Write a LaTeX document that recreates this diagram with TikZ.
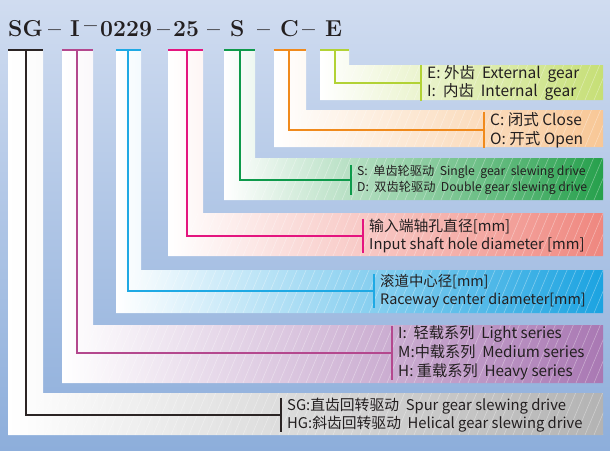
\documentclass[tikz,border=0pt]{standalone}
\usepackage{fontspec}
\newfontfamily\cjk{Noto Sans CJK SC}
\usepackage{tikz}
\usetikzlibrary{calc,positioning}

\definecolor{bgtop}{HTML}{D0DCF0}
\definecolor{bgbot}{HTML}{8DAEDB}
\definecolor{ink}{HTML}{231F20}
% band colours (right end of each band)
\definecolor{gSG}{HTML}{B3B3B3}
\definecolor{gLoad}{HTML}{A978B3}
\definecolor{gRace}{HTML}{1BA3E1}
\definecolor{gShaft}{HTML}{EF877F}
\definecolor{gDrive}{HTML}{26A04C}
\definecolor{gClose}{HTML}{F8C796}
\definecolor{gGear}{HTML}{C6DF76}
% lead line colours
\definecolor{lSG}{HTML}{2B2424}
\definecolor{lLoad}{HTML}{B4488E}
\definecolor{lRace}{HTML}{1FA9E4}
\definecolor{lShaft}{HTML}{E4157F}
\definecolor{lDrive}{HTML}{0E9A4B}
\definecolor{lClose}{HTML}{F08A1C}
\definecolor{lGear}{HTML}{B2D235}

\tikzset{
  code/.style={font=\fontsize{23}{23}\selectfont\bfseries, text=ink, inner sep=0pt, anchor=base west},
  desc/.style={font=\cjk\fontsize{14.8}{18.5}\selectfont, text=ink, align=left, anchor=west, inner xsep=6pt, inner ysep=0pt},
  lead/.style={line width=1.8pt},
  hatch/.style={white, opacity=0.35, line width=0.6pt}
}

\begin{document}
\begin{tikzpicture}[x=1pt,y=-1pt]
  \shade[top color=bgtop, bottom color=bgbot] (0,0) rectangle (610,450);
  \useasboundingbox (0,0) rectangle (610,450);
  % L-shaped panels: strip from the code down, band to the right
  \foreach \xl/\xs/\bt/\bb/\col in {8/43/393/435/gSG, 62/93/325/383/gLoad,
      116/141/270/313/gRace, 168/203/213/256/gShaft, 224/255/158/200/gDrive,
      274/306/110/147/gClose, 320/349/65/100/gGear}{
    \shade[left color=white, right color=\col] (\xl,50) -- (\xs,50) -- (\xs,\bt)
      -- (603,\bt) -- (603,\bb) -- (\xl,\bb) -- cycle;
    \begin{scope}
      \clip (\xl,\bt) rectangle (603,\bb);
      \foreach \h in {0,9,...,620}
        \draw[hatch] (\h,\bb) -- ++(26,-62);
    \end{scope}
  }

  % Model code
  \node[code] (cSG) at (8,36) {SG};
  \node[code] (cLoad) at (70,36) {I};
  \node[code] (cRace) at (100,36) {0229};
  \node[code] (cShaft) at (173,36) {25};
  \node[code] (cDrive) at (230,36) {S};
  \node[code] (cClose) at (280,36) {C};
  \node[code] (cGear) at (325,36) {E};
  \foreach \dx/\dy [count=\i] in {48/36, 84/32, 157/36, 207/36, 257/36, 302/36}
    \node[code] (dash\i) at (\dx,\dy) {--};

  % Descriptions
  \node[desc, font=\cjk\fontsize{15.5}{18}\selectfont] (dGear) at (421,83)
    {E: 外齿~~External~~gear\\I:~~内齿~~Internal~~gear};
  \node[desc, font=\cjk\fontsize{15.5}{19}\selectfont] (dClose) at (484,130)
    {C: 闭式 Close\\O: 开式 Open};
  \node[desc, font=\cjk\fontsize{12.2}{16.5}\selectfont] (dDrive) at (351,180)
    {S:~~单齿轮驱动~~Single~~gear~~slewing drive\\D:~~双齿轮驱动~~Double gear slewing drive};
  \node[desc] (dShaft) at (363,236) {输入端轴孔直径[mm]\\Input shaft hole diameter [mm]};
  \node[desc, font=\cjk\fontsize{14.4}{18.5}\selectfont] (dRace) at (374,291)
    {滚道中心径[mm]\\Raceway center diameter[mm]};
  \node[desc, font=\cjk\fontsize{15.2}{19}\selectfont] (dLoad) at (392,353)
    {I:~~轻载系列~~Light series\\M:中载系列~~Medium series\\H:~重载系列~~Heavy series};
  \node[desc, font=\cjk\fontsize{14.8}{17.5}\selectfont] (dSG) at (281,415)
    {SG:直齿回转驱动~~Spur gear slewing drive\\HG:斜齿回转驱动~~Helical gear slewing drive};

  % Leads from the code to the descriptions
  \foreach \n/\xl/\xm/\xs in {SG/8/26/43, Load/62/77/93, Race/116/128/141,
      Shaft/168/187/203, Drive/224/240/255, Close/274/289/306, Gear/320/335/349}{
    \coordinate (t\n) at (\xm,50);
    \draw[lead, l\n] (\xl,50) -- (\xs,50);
    \draw[lead, l\n] (t\n) |- (d\n.west);
    \draw[lead, l\n] (d\n.north west) -- (d\n.south west);
  }
\end{tikzpicture}
\end{document}
